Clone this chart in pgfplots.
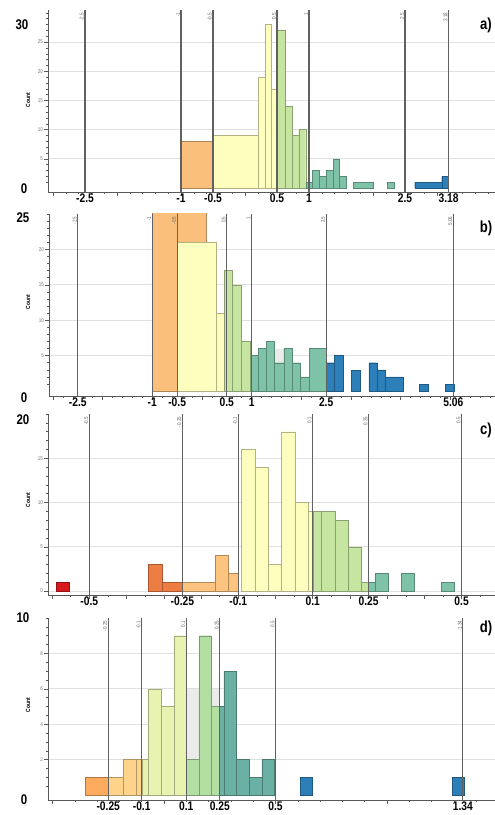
\documentclass[border=0pt]{standalone}
\usepackage{pgfplots}
\pgfplotsset{compat=1.18}
\usepackage{fontspec}
\setmainfont{Liberation Sans}[FakeStretch=0.82]
\definecolor{cOr}{HTML}{FBBF7C}
\definecolor{cYe}{HTML}{FEFEBE}
\definecolor{cGr}{HTML}{C6E5A0}
\definecolor{cTe}{HTML}{7EC2A8}
\definecolor{cBl}{HTML}{2C7FB8}
\definecolor{cRe}{HTML}{D7191C}
\definecolor{cOR}{HTML}{EE7D44}
\definecolor{cLO}{HTML}{FCC47F}
\definecolor{dO}{HTML}{FBAA5E}
\definecolor{dLO}{HTML}{FDD48A}
\definecolor{dYG}{HTML}{E8F3B2}
\definecolor{dG}{HTML}{B4DFA2}
\definecolor{dT}{HTML}{6AB0A5}
\definecolor{bgG}{HTML}{EBEBEB}
\pgfplotsset{
 panel/.style={
  scale only axis, width=447pt, height=182pt,
  anchor=south west,
  axis x line*=bottom, axis y line*=left,
  axis line style={black!65, line width=0.7pt},
  tick style={black!65, line width=0.5pt},
  tick align=outside,
  major tick length=4pt, minor tick length=2pt,
  clip mode=individual,
  ymajorgrids, major grid style={black!12, line width=0.8pt},
  yticklabel style={font=\fontsize{5.5}{6}\selectfont, text=black!55, inner sep=1pt},
  /pgf/number format/assume math mode=true,
  xticklabels={},
  xticklabel style={font=\fontsize{12.5}{13}\selectfont\bfseries, text=black, inner sep=1.5pt},
  extra x tick style={major tick length=0pt},
 },
 bin/.style={ybar interval, fill=#1, draw=#1!70!black, line width=0.35pt},
 bg/.style={ybar interval, fill=bgG, draw=none},
 refline/.style={black!62, line width=1.1pt},
}
\tikzset{rlab/.style={rotate=90, anchor=south east, font=\fontsize{5.5}{6}\selectfont, text=black!60, inner sep=1pt}}
\newcommand{\bignum}[1]{\fontsize{14}{15}\selectfont\bfseries #1}
\begin{document}
\begin{tikzpicture}
\path[use as bounding box] (0,0) rectangle (495pt,815pt);
% ---------------- a
\begin{axis}[panel, at={(48pt,623pt)}, xmin=-3.078, xmax=3.906, ymin=-0.69, ymax=30.5,
 xtick={-3,-2,...,3}, minor xtick={-3,-2.8,...,3.8},
 extra x ticks={-2.5,-1,-0.5,0.5,1,2.5,3.18}, extra x tick labels={-2.5,-1,-0.5,0.5,1,2.5,3.18},
 ytick={5,10,...,25}, minor ytick={1,2,...,30}]
\addplot[bin=cOr] coordinates {(-1,8)(-0.5,8)};
\addplot[bin=cYe] coordinates {(-0.5,9)(0.208,19)(0.3125,28)(0.411,17)(0.5,17)};
\addplot[bin=cGr] coordinates {(0.5,27)(0.63,14)(0.74,9)(0.839,10)(0.948,10)};
\addplot[bin=cTe] coordinates {(0.948,1)(1.057,3)(1.156,2)(1.266,3)(1.375,5)(1.474,2)(1.583,2)};
\addplot[bin=cTe] coordinates {(1.6875,1)(2.005,1)};
\addplot[bin=cTe] coordinates {(2.214,1)(2.328,1)};
\addplot[bin=cBl] coordinates {(2.651,1)(3.073,2)(3.18,2)};
\addplot[refline] coordinates {(-2.5,-0.69)(-2.5,30.5)};
\addplot[refline] coordinates {(-1,-0.69)(-1,30.5)};
\addplot[refline] coordinates {(-0.5,-0.69)(-0.5,30.5)};
\addplot[refline] coordinates {(0.5,-0.69)(0.5,30.5)};
\addplot[refline] coordinates {(1,-0.69)(1,30.5)};
\addplot[refline] coordinates {(2.5,-0.69)(2.5,30.5)};
\addplot[refline] coordinates {(3.18,-0.69)(3.18,30.5)};
\node[rlab] at (axis cs:-2.5,30.2) {-2.5};
\node[rlab] at (axis cs:-1,30.2) {-1};
\node[rlab] at (axis cs:-0.5,30.2) {-0.5};
\node[rlab] at (axis cs:0.5,30.2) {0.5};
\node[rlab] at (axis cs:1,30.2) {1};
\node[rlab] at (axis cs:2.5,30.2) {2.5};
\node[rlab] at (axis cs:3.18,30.2) {3.18};
\end{axis}
% ---------------- b
\begin{axis}[panel, at={(49pt,419pt)}, width=446pt, xmin=-3.08, xmax=5.9, ymin=-0.7, ymax=25,
 xtick={-3,-2,...,5}, minor xtick={-3,-2.8,...,5.8},
 extra x ticks={-2.5,-1,-0.5,0.5,1,2.5,5.06}, extra x tick labels={-2.5,-1,-0.5,0.5,1,2.5,5.06},
 ytick={5,10,...,20}, minor ytick={1,2,...,25}]
\addplot[bin=cOr] coordinates {(-1,27)(-0.5,27)(0.094,27)};
\addplot[bin=cYe] coordinates {(-0.5,21)(0.282,11)(0.483,11)};
\addplot[bin=cGr] coordinates {(0.45,17)(0.617,15)(0.792,7)(0.966,7)};
\addplot[bg] coordinates {(1.463,6)(1.651,6)};
\addplot[bin=cTe] coordinates {(1.0,5)(1.134,6)(1.302,7)(1.463,4)(1.651,6)(1.819,4)(1.987,2)(2.161,6)(2.5,6)};
\addplot[bin=cBl] coordinates {(2.5,4)(2.664,5)(2.846,5)};
\addplot[bin=cBl] coordinates {(3.013,3)(3.181,3)};
\addplot[bin=cBl] coordinates {(3.362,4)(3.53,3)(3.698,2)(4.047,2)};
\addplot[bin=cBl] coordinates {(4.376,1)(4.55,1)};
\addplot[bin=cBl] coordinates {(4.899,1)(5.074,1)};
\addplot[refline] coordinates {(-2.5,-0.7)(-2.5,25)};
\addplot[refline] coordinates {(-1,-0.7)(-1,25)};
\addplot[refline] coordinates {(-0.5,-0.7)(-0.5,25)};
\addplot[refline] coordinates {(0.5,-0.7)(0.5,25)};
\addplot[refline] coordinates {(1,-0.7)(1,25)};
\addplot[refline] coordinates {(2.5,-0.7)(2.5,25)};
\addplot[refline] coordinates {(5.06,-0.7)(5.06,25)};
\node[rlab] at (axis cs:-2.5,24.8) {-2.5};
\node[rlab] at (axis cs:-1,24.8) {-1};
\node[rlab] at (axis cs:-0.5,24.8) {-0.5};
\node[rlab] at (axis cs:0.5,24.8) {0.5};
\node[rlab] at (axis cs:1,24.8) {1};
\node[rlab] at (axis cs:2.5,24.8) {2.5};
\node[rlab] at (axis cs:5.06,24.8) {5.06};
\end{axis}
% ---------------- c
\begin{axis}[panel, at={(48pt,220pt)}, height=181pt, xmin=-0.611, xmax=0.5897, ymin=-0.45, ymax=20,
 xtick={-0.6,-0.5,...,0.5}, minor xtick={-0.55,-0.45,...,0.55},
 extra x ticks={-0.5,-0.25,-0.1,0.1,0.25,0.5}, extra x tick labels={-0.5,-0.25,-0.1,0.1,0.25,0.5},
 ytick={0,5,10,15}, minor ytick={1,2,...,20}]
\addplot[bin=cRe] coordinates {(-0.59,1)(-0.5546,1)};
\addplot[bin=cOR] coordinates {(-0.3406,3)(-0.3048,1)(-0.2493,1)};
\addplot[bin=cLO] coordinates {(-0.2493,1)(-0.1625,4)(-0.1267,2)(-0.0989,2)};
\addplot[bin=cYe] coordinates {(-0.0909,16)(-0.055,14)(-0.0192,3)(0.0166,18)(0.0524,10)(0.0882,9)(0.1,9)};
\addplot[bin=cGr] coordinates {(0.1,9)(0.124,9)(0.16,8)(0.1956,5)(0.2314,1)(0.2493,1)};
\addplot[bin=cTe] coordinates {(0.2493,1)(0.267,2)(0.303,2)};
\addplot[bin=cTe] coordinates {(0.3389,2)(0.3729,2)};
\addplot[bin=cTe] coordinates {(0.4463,1)(0.4803,1)};
\addplot[refline] coordinates {(-0.5,-0.45)(-0.5,20)};
\addplot[refline] coordinates {(-0.25,-0.45)(-0.25,20)};
\addplot[refline] coordinates {(-0.1,-0.45)(-0.1,20)};
\addplot[refline] coordinates {(0.1,-0.45)(0.1,20)};
\addplot[refline] coordinates {(0.25,-0.45)(0.25,20)};
\addplot[refline] coordinates {(0.5,-0.45)(0.5,20)};
\node[rlab] at (axis cs:-0.5,19.8) {-0.5};
\node[rlab] at (axis cs:-0.25,19.8) {-0.25};
\node[rlab] at (axis cs:-0.1,19.8) {-0.1};
\node[rlab] at (axis cs:0.1,19.8) {0.1};
\node[rlab] at (axis cs:0.25,19.8) {0.25};
\node[rlab] at (axis cs:0.5,19.8) {0.5};
\end{axis}
% ---------------- d
\begin{axis}[panel, at={(48pt,15pt)}, xmin=-0.52, xmax=1.484, ymin=-0.28, ymax=10,
 xtick={-0.5,0,0.5,1}, minor xtick={-0.5,-0.4,...,1.4},
 extra x ticks={-0.25,-0.1,0.1,0.25,0.5,1.34}, extra x tick labels={-0.25,-0.1,0.1,0.25,0.5,1.34},
 ytick={2,4,6,8}, minor ytick={0.5,1,...,10}]
\addplot[bg] coordinates {(0.1,6)(0.2493,6)};
\addplot[bin=dO] coordinates {(-0.3546,1)(-0.25,1)};
\addplot[bin=dLO] coordinates {(-0.25,1)(-0.1827,2)(-0.126,2)(-0.1,2)};
\addplot[bin=dYG] coordinates {(-0.1,2)(-0.0706,6)(-0.0123,5)(0.0445,9)(0.1,9)};
\addplot[bin=dG] coordinates {(0.1,2)(0.1566,9)(0.2134,5)(0.2493,5)};
\addplot[bin=dT] coordinates {(0.2493,5)(0.2687,7)(0.3255,2)(0.3823,1)(0.439,2)(0.4944,2)};
\addplot[bin=cBl] coordinates {(0.6096,1)(0.6648,1)};
\addplot[bin=cBl] coordinates {(1.2899,1)(1.345,1)};
\addplot[refline] coordinates {(-0.25,-0.28)(-0.25,10)};
\addplot[refline] coordinates {(-0.1,-0.28)(-0.1,10)};
\addplot[refline] coordinates {(0.1,-0.28)(0.1,10)};
\addplot[refline] coordinates {(0.25,-0.28)(0.25,10)};
\addplot[refline] coordinates {(0.5,-0.28)(0.5,10)};
\addplot[refline] coordinates {(1.34,-0.28)(1.34,10)};
\node[rlab] at (axis cs:-0.25,9.9) {-0.25};
\node[rlab] at (axis cs:-0.1,9.9) {-0.1};
\node[rlab] at (axis cs:0.1,9.9) {0.1};
\node[rlab] at (axis cs:0.25,9.9) {0.25};
\node[rlab] at (axis cs:0.5,9.9) {0.5};
\node[rlab] at (axis cs:1.34,9.9) {1.34};
\end{axis}
% ---------------- outer labels
\node at (22pt,790pt) {\bignum{30}};
\node at (24pt,626pt) {\bignum{0}};
\node at (23pt,597pt) {\bignum{25}};
\node at (24pt,417pt) {\bignum{0}};
\node at (23pt,395pt) {\bignum{20}};
\node at (23pt,197pt) {\bignum{10}};
\node at (24pt,15pt) {\bignum{0}};
\foreach \yy in {715,513,315,110}
  \node[rotate=90, font=\fontsize{6}{7}\selectfont\bfseries] at (28pt,\yy pt) {Count};
\node[font=\fontsize{16}{17}\selectfont\bfseries] at (486pt,790pt) {a)};
\node[font=\fontsize{16}{17}\selectfont\bfseries] at (486pt,587pt) {b)};
\node[font=\fontsize{16}{17}\selectfont\bfseries] at (486pt,385pt) {c)};
\node[font=\fontsize{16}{17}\selectfont\bfseries] at (486pt,187pt) {d)};
\end{tikzpicture}
\end{document}
